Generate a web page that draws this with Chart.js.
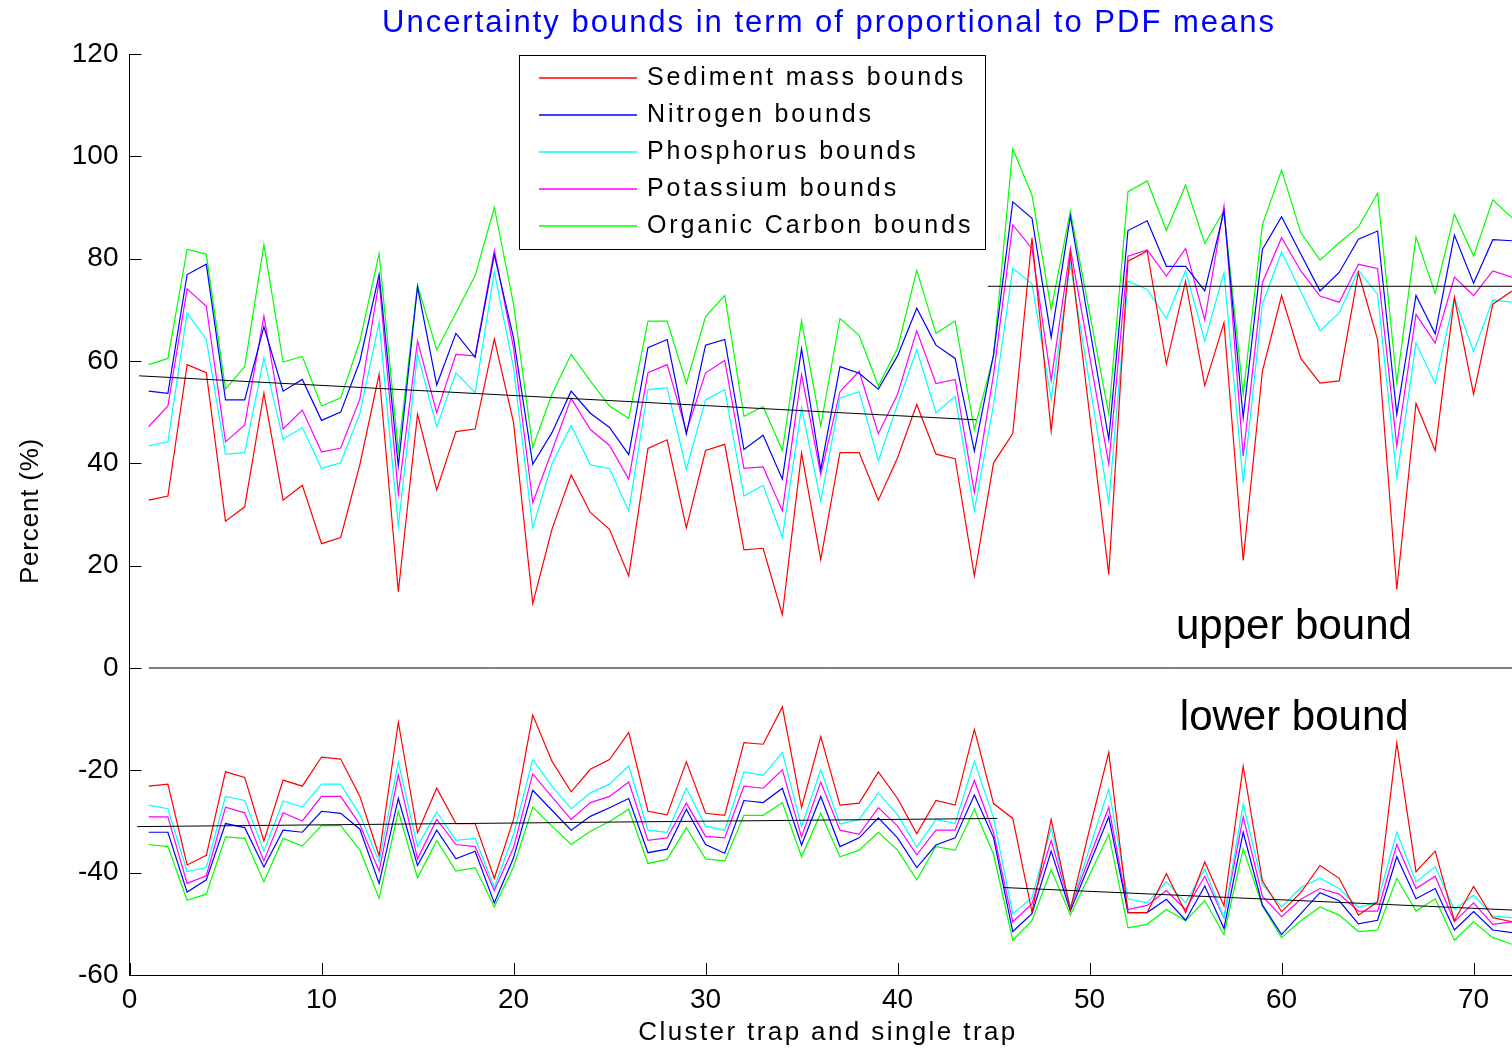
<!DOCTYPE html>
<html lang="en">
<head>
<meta charset="UTF-8">
<title>Uncertainty bounds</title>
<script src="https://cdn.jsdelivr.net/npm/chart.js@4.4.1/dist/chart.umd.min.js"></script>
<style>
  html, body { margin: 0; padding: 0; background: #ffffff; }
  #wrap { width: 1512px; height: 1049px; }
</style>
</head>
<body>
<div id="wrap"><canvas id="boundsChart" width="1512" height="1049"></canvas></div>
<script>
// ---- data ---------------------------------------------------------------
const traps = Array.from({ length: 72 }, (_, i) => i + 1);
const seriesNames = ['Sediment mass bounds', 'Nitrogen bounds', 'Phosphorus bounds', 'Potassium bounds', 'Organic Carbon bounds'];
const xTicks = [0, 10, 20, 30, 40, 50, 60, 70];
const yTicks = [-60, -40, -20, 0, 20, 40, 60, 80, 100, 120];

const sedimentUpper = [32.8, 33.6, 59.3, 57.7, 28.7, 31.5, 53.7, 32.8, 35.7, 24.3, 25.5, 39.8, 57.4, 14.9, 49.6, 34.8, 46.2, 46.7, 64.3, 48.0,
  12.6, 27.1, 37.7, 30.4, 27.1, 18.0, 42.9, 44.6, 27.4, 42.5, 43.7, 23.1, 23.4, 10.4, 42.0, 21.2, 42.1, 42.1, 32.8, 41.1,
  51.5, 41.8, 40.9, 18.0, 40.1, 45.8, 84.1, 46.3, 80.9, 49.6, 18.3, 79.5, 81.5, 59.4, 75.6, 55.2, 67.5, 21.0, 58.0, 72.8,
  60.5, 55.7, 56.1, 77.3, 64.2, 15.4, 51.7, 42.5, 72.4, 53.5, 71.1, 73.7];
const nitrogenUpper = [54.1, 53.7, 76.9, 78.9, 52.4, 52.4, 66.7, 54.1, 56.4, 48.4, 50.0, 60.0, 76.9, 39.5, 74.5, 55.3, 65.4, 60.7, 80.8, 64.5,
  39.8, 46.0, 54.1, 49.8, 47.0, 41.7, 62.6, 64.2, 45.7, 63.1, 64.2, 42.7, 45.5, 36.9, 62.4, 38.8, 58.9, 57.6, 54.5, 61.0,
  70.3, 63.1, 60.5, 42.4, 61.3, 91.1, 87.9, 64.6, 88.3, 66.5, 44.7, 85.5, 87.4, 78.5, 78.5, 73.7, 89.3, 48.9, 81.8, 88.2,
  80.9, 73.7, 77.3, 83.8, 85.4, 49.6, 72.8, 65.3, 84.6, 75.2, 83.7, 83.5];
const phosphorusUpper = [43.4, 44.2, 69.4, 64.2, 41.8, 42.1, 60.6, 44.7, 47.0, 39.0, 40.1, 49.8, 67.6, 27.7, 61.4, 47.1, 57.7, 53.8, 77.4, 58.7,
  27.4, 39.9, 47.4, 39.7, 39.0, 30.7, 54.4, 54.8, 38.8, 52.4, 54.4, 33.6, 35.7, 25.5, 50.9, 32.6, 52.8, 54.0, 40.5, 51.5,
  62.2, 49.9, 53.1, 30.7, 51.5, 78.1, 75.1, 52.5, 78.9, 55.6, 32.3, 75.6, 74.0, 68.3, 77.6, 63.9, 77.3, 36.2, 71.1, 81.3,
  73.6, 65.9, 69.4, 77.7, 73.0, 37.2, 63.5, 55.6, 72.4, 61.8, 71.9, 71.5];
const potassiumUpper = [47.2, 51.2, 74.1, 70.7, 44.2, 47.5, 68.8, 46.7, 50.4, 42.2, 43.0, 52.6, 75.6, 34.0, 63.9, 49.9, 61.3, 61.0, 81.6, 62.6,
  32.3, 42.4, 52.7, 46.6, 43.5, 36.9, 57.7, 59.3, 46.2, 57.7, 60.1, 39.0, 39.3, 30.7, 57.4, 37.8, 54.0, 58.0, 45.8, 53.5,
  65.9, 55.6, 56.4, 34.3, 57.4, 86.6, 82.0, 56.2, 82.0, 61.0, 39.8, 80.5, 81.7, 76.6, 82.0, 68.0, 90.3, 41.4, 75.3, 84.1,
  77.6, 72.7, 71.5, 78.9, 78.1, 43.4, 69.1, 63.5, 76.4, 72.8, 77.6, 76.4];
const organicCarbonUpper = [59.3, 60.5, 81.8, 80.9, 54.5, 58.9, 82.7, 59.8, 60.9, 51.2, 52.8, 63.9, 81.0, 42.4, 74.8, 62.2, 69.4, 76.7, 90.0, 71.1,
  43.1, 53.5, 61.3, 56.1, 51.2, 48.8, 67.8, 67.8, 55.6, 68.7, 72.8, 49.2, 51.1, 42.5, 67.9, 47.3, 68.3, 65.0, 55.1, 62.5,
  77.7, 65.4, 67.8, 46.6, 61.0, 101.5, 92.4, 70.1, 89.3, 69.4, 49.6, 93.1, 95.2, 85.5, 94.4, 83.0, 89.4, 53.5, 86.6, 97.3,
  85.1, 79.7, 83.1, 86.2, 92.8, 55.8, 84.2, 73.2, 88.7, 80.5, 91.5, 88.0];

const sedimentLower = [-23.1, -22.7, -38.5, -36.6, -20.3, -21.4, -33.8, -21.9, -23.1, -17.4, -17.8, -25.1, -36.7, -10.6, -32.2, -23.5, -30.4, -30.4, -41.1, -29.6,
  -9.2, -18.2, -24.2, -19.8, -17.9, -12.6, -28.0, -28.7, -18.3, -28.4, -28.8, -14.6, -14.9, -7.6, -27.3, -13.4, -26.8, -26.4, -20.3, -25.5,
  -32.4, -25.9, -26.8, -12.0, -26.5, -29.4, -47.7, -29.6, -47.2, -31.5, -16.5, -47.8, -47.8, -40.2, -47.8, -37.9, -46.5, -19.2, -41.6, -47.6,
  -43.9, -38.6, -41.1, -48.3, -45.7, -14.6, -39.8, -35.8, -49.4, -42.7, -48.8, -49.6];
const nitrogenLower = [-32.1, -32.1, -43.8, -41.4, -30.4, -31.2, -38.9, -31.7, -32.1, -28.0, -28.4, -31.5, -42.1, -25.5, -38.6, -31.7, -37.3, -35.8, -45.9, -37.1,
  -23.9, -27.8, -31.7, -29.0, -27.3, -25.5, -36.1, -35.4, -27.6, -34.5, -36.2, -25.9, -26.3, -23.5, -34.6, -25.1, -34.9, -33.2, -29.3, -33.2,
  -39.0, -34.6, -33.2, -24.8, -33.2, -51.5, -48.0, -35.8, -47.5, -38.3, -29.1, -47.8, -47.8, -45.2, -49.3, -42.6, -50.9, -32.1, -46.3, -52.1,
  -48.0, -43.9, -45.5, -50.0, -49.3, -36.9, -45.1, -43.1, -51.2, -47.6, -51.2, -51.7];
const phosphorusLower = [-26.8, -27.5, -39.8, -39.0, -25.1, -25.9, -35.8, -26.0, -27.2, -22.7, -22.7, -28.7, -37.9, -18.4, -34.9, -28.1, -33.7, -33.3, -42.9, -32.5,
  -17.9, -23.1, -27.5, -24.4, -22.7, -19.1, -31.7, -32.1, -23.5, -30.9, -31.7, -20.3, -21.0, -16.5, -31.0, -19.9, -30.5, -29.6, -24.4, -28.7,
  -35.0, -29.6, -30.4, -18.2, -29.3, -48.0, -44.9, -31.3, -46.8, -35.2, -23.6, -45.1, -45.9, -41.8, -45.9, -39.3, -48.8, -26.6, -42.3, -46.7,
  -42.9, -41.1, -43.1, -46.8, -45.7, -32.1, -41.8, -38.9, -47.2, -44.4, -48.5, -48.8];
const potassiumLower = [-29.1, -29.1, -42.1, -40.6, -27.2, -28.3, -37.7, -28.3, -29.9, -25.1, -25.1, -30.6, -39.7, -20.9, -37.3, -29.6, -34.5, -34.9, -43.5, -35.1,
  -20.7, -25.2, -29.6, -26.3, -25.1, -22.3, -33.7, -33.2, -26.4, -32.9, -33.2, -23.1, -23.5, -19.9, -33.0, -22.3, -31.7, -32.5, -27.3, -30.9,
  -36.5, -31.7, -31.7, -22.0, -32.2, -49.6, -46.1, -33.7, -46.8, -37.0, -27.2, -47.2, -46.4, -43.5, -47.2, -40.7, -48.8, -29.1, -44.6, -48.6,
  -45.2, -43.1, -44.2, -47.5, -47.5, -34.5, -43.1, -40.7, -49.6, -45.9, -50.1, -49.6];
const organicCarbonLower = [-34.5, -34.9, -45.4, -44.2, -33.0, -33.3, -41.8, -33.3, -34.8, -30.8, -30.8, -35.6, -45.0, -28.0, -41.0, -33.7, -39.7, -39.0, -46.7, -38.9,
  -27.2, -30.9, -34.5, -31.9, -30.0, -27.6, -38.2, -37.4, -31.2, -37.3, -37.7, -28.8, -28.8, -26.3, -36.9, -28.4, -36.9, -35.6, -32.1, -35.6,
  -41.4, -34.9, -35.6, -27.6, -36.4, -53.2, -49.4, -39.4, -48.3, -40.4, -32.5, -50.8, -50.1, -47.2, -49.4, -45.5, -52.1, -35.3, -46.5, -52.7,
  -49.4, -46.7, -48.3, -51.5, -51.2, -41.1, -47.5, -45.1, -53.2, -49.6, -52.7, -54.0];

// black fitted lines and the zero line, as [x, y] end points
const trendUpperLeft = [[0.5, 57.1], [44.1, 48.5]];
const trendUpperRight = [[44.7, 74.6], [72, 74.6]];
const trendLowerLeft = [[0.4, -31.0], [45.2, -29.4]];
const trendLowerRight = [[45.5, -42.9], [72, -47.3]];
const zeroLine = [[1, 0], [72, 0]];

// ---- chart ----------------------------------------------------------------
document.addEventListener('DOMContentLoaded', () => {
    const FONT = '"Liberation Sans", Arial, Helvetica, sans-serif';
    const COLORS = ['#ff0000', '#0000ff', '#00ffff', '#ff00ff', '#00ff00'];

    const BoundsApp = {
        chart: null,
        dom: {},

        init() {
            this.cacheDom();
            this.createChart();
        },

        cacheDom() {
            this.dom.canvas = document.getElementById('boundsChart');
            this.dom.ctx = this.dom.canvas.getContext('2d');
        },

        toPoints(values) {
            return values.map((v, i) => ({ x: traps[i], y: v }));
        },

        pairsToPoints(pairs) {
            return pairs.map(([x, y]) => ({ x, y }));
        },

        buildDatasets() {
            const upper = [sedimentUpper, nitrogenUpper, phosphorusUpper, potassiumUpper, organicCarbonUpper];
            const lower = [sedimentLower, nitrogenLower, phosphorusLower, potassiumLower, organicCarbonLower];
            const sets = [];

            // black lines go on top (lower order is drawn last)
            [trendUpperLeft, trendUpperRight, trendLowerLeft, trendLowerRight, zeroLine].forEach((pairs, i) => {
                sets.push({
                    label: 'line ' + i,
                    data: this.pairsToPoints(pairs),
                    borderColor: '#000000',
                    borderWidth: 1,
                    order: 0
                });
            });

            seriesNames.forEach((name, i) => {
                sets.push({ label: name + ' (upper)', data: this.toPoints(upper[i]), borderColor: COLORS[i], borderWidth: 1.2, order: 1 });
                sets.push({ label: name + ' (lower)', data: this.toPoints(lower[i]), borderColor: COLORS[i], borderWidth: 1.2, order: 1 });
            });
            return sets;
        },

        // draws the inward tick marks, the title, axis titles, legend box and the two notes
        decorPlugin() {
            return {
                id: 'matlabDecor',
                afterDraw(chart) {
                    const { ctx, chartArea: area, scales: { x, y } } = chart;
                    ctx.save();

                    // tick marks pointing into the plot
                    ctx.strokeStyle = '#000000';
                    ctx.lineWidth = 1;
                    ctx.beginPath();
                    x.ticks.forEach(t => {
                        const px = Math.round(x.getPixelForValue(t.value)) + 0.5;
                        ctx.moveTo(px, area.bottom);
                        ctx.lineTo(px, area.bottom - 12);
                    });
                    y.ticks.forEach(t => {
                        const py = Math.round(y.getPixelForValue(t.value)) + 0.5;
                        ctx.moveTo(area.left, py);
                        ctx.lineTo(area.left + 12, py);
                    });
                    ctx.stroke();

                    // title
                    ctx.fillStyle = '#0000ff';
                    ctx.font = '31px ' + FONT;
                    ctx.textAlign = 'center';
                    ctx.textBaseline = 'alphabetic';
                    ctx.letterSpacing = '2px';
                    ctx.fillText('Uncertainty bounds in term of proportional to PDF means', 829, 32);

                    // axis titles
                    ctx.fillStyle = '#000000';
                    ctx.font = '26px ' + FONT;
                    ctx.letterSpacing = '2.4px';
                    ctx.fillText('Cluster trap and single trap', 828, 1040);

                    ctx.save();
                    ctx.translate(31, 511);
                    ctx.rotate(-Math.PI / 2);
                    ctx.textBaseline = 'middle';
                    ctx.letterSpacing = '0.8px';
                    ctx.fillText('Percent (%)', 0, 0);
                    ctx.restore();

                    // notes inside the axes
                    ctx.letterSpacing = '0px';
                    ctx.textAlign = 'left';
                    ctx.font = '42px ' + FONT;
                    ctx.fillText('upper bound', x.getPixelForValue(54.5), y.getPixelForValue(5.7));
                    ctx.fillText('lower bound', x.getPixelForValue(54.7), y.getPixelForValue(-12.1));

                    // legend
                    ctx.fillStyle = '#ffffff';
                    ctx.fillRect(519.5, 55.5, 466, 194);
                    ctx.strokeStyle = '#000000';
                    ctx.lineWidth = 1;
                    ctx.strokeRect(519.5, 55.5, 466, 194);
                    ctx.font = '25px ' + FONT;
                    ctx.letterSpacing = '2.9px';
                    ctx.textBaseline = 'middle';
                    seriesNames.forEach((name, i) => {
                        const rowY = 78 + i * 37;
                        ctx.strokeStyle = COLORS[i];
                        ctx.lineWidth = 1.3;
                        ctx.beginPath();
                        ctx.moveTo(539, rowY);
                        ctx.lineTo(637, rowY);
                        ctx.stroke();
                        ctx.fillStyle = '#000000';
                        ctx.fillText(name, 647, rowY);
                    });

                    ctx.restore();
                }
            };
        },

        createChart() {
            Chart.defaults.font.family = FONT;
            Chart.defaults.color = '#000000';

            this.chart = new Chart(this.dom.ctx, {
                type: 'line',
                data: { datasets: this.buildDatasets() },
                options: {
                    responsive: false,
                    animation: false,
                    events: [],
                    layout: { padding: { top: 54, right: 0, bottom: 0, left: 0 } },
                    elements: { point: { radius: 0 }, line: { tension: 0 } },
                    plugins: {
                        legend: { display: false },
                        tooltip: { enabled: false },
                        title: { display: false }
                    },
                    scales: {
                        x: {
                            type: 'linear',
                            min: 0,
                            max: 72,
                            afterFit: s => { s.height = 74; },
                            afterBuildTicks: s => { s.ticks = xTicks.map(v => ({ value: v })); },
                            grid: { display: false, drawTicks: false },
                            border: { display: true, color: '#000000', width: 1 },
                            ticks: { color: '#000000', font: { size: 28 }, padding: 8, maxRotation: 0, autoSkip: false }
                        },
                        y: {
                            type: 'linear',
                            min: -60,
                            max: 120,
                            afterFit: s => { s.width = 129.5; },
                            afterBuildTicks: s => { s.ticks = yTicks.map(v => ({ value: v })); },
                            grid: { display: false, drawTicks: false },
                            border: { display: true, color: '#000000', width: 1 },
                            ticks: { color: '#000000', font: { size: 28 }, padding: 11 }
                        }
                    }
                },
                plugins: [this.decorPlugin()]
            });
        }
    };

    BoundsApp.init();
});
</script>
</body>
</html>
